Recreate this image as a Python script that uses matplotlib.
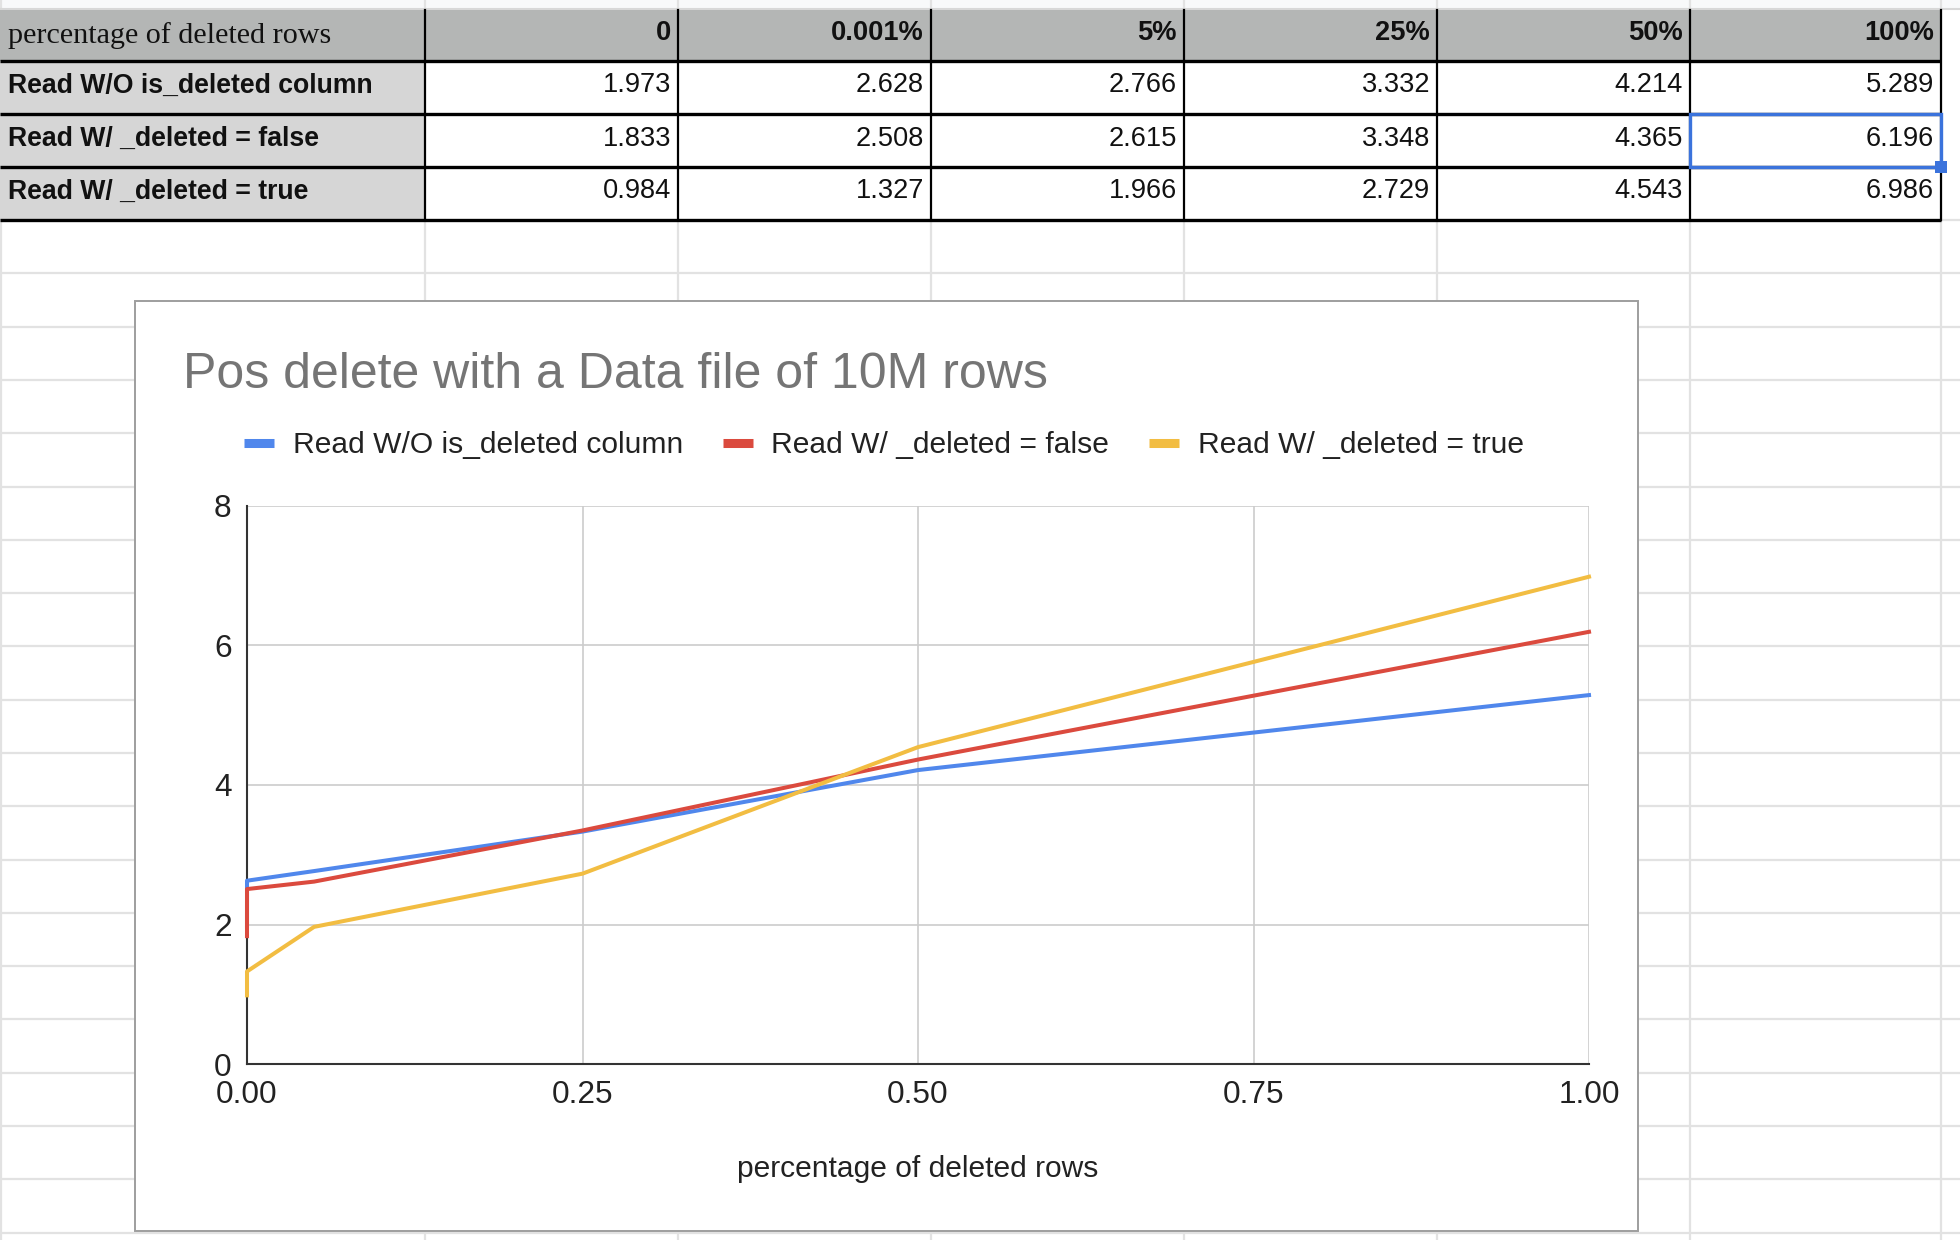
import matplotlib
matplotlib.use("Agg")
import matplotlib.pyplot as plt
from matplotlib.patches import Rectangle
from matplotlib.lines import Line2D

plt.rcParams["font.family"] = ["Liberation Sans", "DejaVu Sans"]

# data
header_label = "percentage of deleted rows"
col_labels = ["0", "0.001%", "5%", "25%", "50%", "100%"]
x_values = [0, 0.00001, 0.05, 0.25, 0.5, 1.0]
series_names = ["Read W/O is_deleted column", "Read W/ _deleted = false", "Read W/ _deleted = true"]
read_wo = [1.973, 2.628, 2.766, 3.332, 4.214, 5.289]
read_false = [1.833, 2.508, 2.615, 3.348, 4.365, 6.196]
read_true = [0.984, 1.327, 1.966, 2.729, 4.543, 6.986]
series = [read_wo, read_false, read_true]
colors = ["#5087EC", "#DB4A3E", "#F2BD42"]

W, H = 1960, 1240
fig = plt.figure(figsize=(W / 100, H / 100), dpi=100)

# sheet background, pixel coords
bg = fig.add_axes([0, 0, 1, 1])
bg.set_xlim(0, W)
bg.set_ylim(H, 0)
bg.axis("off")

col_edges = [0, 425, 678, 931, 1184, 1437, 1690, 1941]
row_edges = [10, 61, 114, 167, 220]
grid_c = "#e2e2e2"

bg.add_patch(Rectangle((0, 0), W, 10, fc="#f8f9fa", ec="none", zorder=0))
y = 220.0
while y < H:
    bg.plot([0, W], [y, y], color=grid_c, lw=1.6, zorder=0)
    y += 53.3
for xe in [1] + col_edges[1:]:
    bg.plot([xe, xe], [0, H], color=grid_c, lw=1.6, zorder=0)
bg.plot([0, W], [9, 9], color="#d8d8d8", lw=1.5, zorder=0)

# table cells
bg.add_patch(Rectangle((0, row_edges[0]), col_edges[-1], row_edges[1] - row_edges[0],
                       fc="#b4b6b5", ec="none", zorder=1))
for r in range(3):
    y0 = row_edges[r + 1]
    bg.add_patch(Rectangle((0, y0), col_edges[1], row_edges[r + 2] - y0, fc="#d6d6d6", ec="none", zorder=1))
    bg.add_patch(Rectangle((col_edges[1], y0), col_edges[-1] - col_edges[1], row_edges[r + 2] - y0,
                           fc="white", ec="none", zorder=1))

for ye in row_edges[1:]:
    bg.plot([0, col_edges[-1]], [ye, ye], color="black", lw=2.4, zorder=3, solid_capstyle="butt")
for xe in col_edges[1:]:
    bg.plot([xe, xe], [row_edges[0], row_edges[-1]], color="black", lw=1.6, zorder=3)

bg.text(8, (row_edges[0] + row_edges[1]) / 2, header_label, family=["Liberation Serif"],
        fontsize=21.7, ha="left", va="center", color="#111", zorder=4)
for j, lab in enumerate(col_labels):
    bg.text(col_edges[j + 2] - 7, (row_edges[0] + row_edges[1]) / 2 - 2, lab, fontsize=19.6,
            fontweight="bold", ha="right", va="center", color="#111", zorder=4)
for r, (name, vals) in enumerate(zip(series_names, series)):
    yc = (row_edges[r + 1] + row_edges[r + 2]) / 2 - 2
    bg.text(8, yc, name, fontsize=19.2, fontweight="bold", ha="left", va="center", color="#111", zorder=4)
    for j, v in enumerate(vals):
        bg.text(col_edges[j + 2] - 7, yc, f"{v:.3f}", fontsize=19.6, ha="right", va="center",
                color="#111", zorder=4)

# selected cell
bg.add_patch(Rectangle((col_edges[6], row_edges[2]), col_edges[7] - col_edges[6], row_edges[3] - row_edges[2],
                       fc="none", ec="#3b73dc", lw=2.4, zorder=5))
bg.add_patch(Rectangle((col_edges[7] - 6, row_edges[3] - 6), 12, 12, fc="#3b73dc", ec="none", zorder=6))

# chart box
bg.add_patch(Rectangle((135, 301), 1503, 930, fc="white", ec="#9e9e9e", lw=1.4, zorder=7))
bg.text(183, 388, "Pos delete with a Data file of 10M rows", fontsize=36, color="#757575",
        ha="left", va="baseline", zorder=8)

# plot
ax = fig.add_axes([247 / W, 1 - 1064 / H, (1589 - 247) / W, (1064 - 506) / H])
ax.set_zorder(9)
ax.patch.set_alpha(0)
for name, vals, c in zip(series_names, series, colors):
    ax.plot(x_values, vals, color=c, lw=2.9, label=name, zorder=3, clip_on=False, solid_joinstyle="round")

ax.set_xlim(0, 1)
ax.set_ylim(0, 8)
ax.set_xticks([0, 0.25, 0.5, 0.75, 1.0])
ax.set_xticklabels([f"{t:.2f}" for t in [0, 0.25, 0.5, 0.75, 1.0]])
ax.set_yticks([0, 2, 4, 6, 8])
ax.tick_params(length=0, labelsize=22.8, labelcolor="#222")
ax.tick_params(axis="y", pad=11)
ax.tick_params(axis="x", pad=11.5)
ax.grid(True, color="#cccccc", lw=1.2)
ax.set_axisbelow(True)
for s in ["top", "right"]:
    ax.spines[s].set_visible(False)
for s in ["left", "bottom"]:
    ax.spines[s].set_color("#333333")
    ax.spines[s].set_linewidth(1.5)

ax.set_xlabel("percentage of deleted rows", fontsize=21.6, color="#222")
ax.xaxis.set_label_coords(0.5, -(1169 - 1064) / (1064 - 506))
ax.xaxis.label.set_va("center")

handles = [Line2D([], [], color=c, lw=6.5, solid_capstyle="butt") for c in colors]
leg = fig.legend(handles, series_names, loc="center left", bbox_to_anchor=(244 / W, 1 - 445 / H),
                 ncol=3, frameon=False, fontsize=21.6, handlelength=1.0, handletextpad=0.62,
                 columnspacing=1.33, borderpad=0, borderaxespad=0)
for t in leg.get_texts():
    t.set_color("#222")
leg.set_zorder(10)

fig.savefig("out.png", dpi=100)
